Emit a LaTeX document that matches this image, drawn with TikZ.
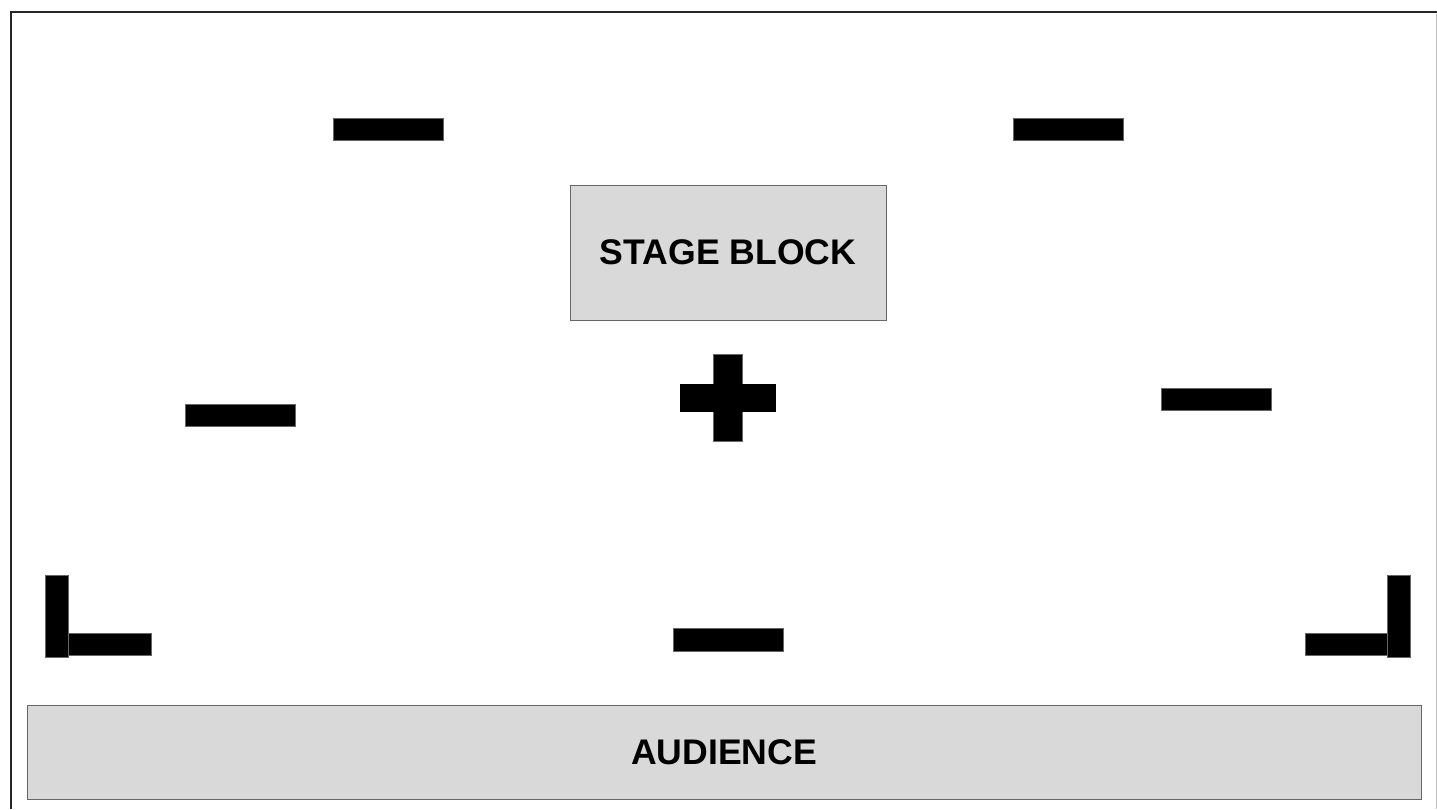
\documentclass[tikz,border=0pt]{standalone}
\usepackage{fontspec}
\setmainfont{Liberation Sans}
\begin{document}
\begin{tikzpicture}[x=1pt,y=-1pt,
  bar/.style={fill=black,draw=black!60,line width=0.6pt,inner sep=0pt,minimum width=110pt,minimum height=22pt},
  blk/.style={fill=black,draw=black!60,line width=0.6pt,inner sep=0pt},
  area/.style={fill=black!15,draw=black!60,line width=1pt,inner sep=0pt,font=\fontsize{35.6}{42}\selectfont\bfseries}]
\useasboundingbox (0,0) rectangle (1437,809);
\fill[white] (0,0) rectangle (1437,809);
% frame
\draw[line width=2.5pt,black!85] (11,809) -- (11,12) -- (1437,12);
\draw[line width=1pt,black!25] (1436,14) -- (1436,809);
% stage block and audience
\node[area,minimum width=316pt,minimum height=135pt] (stage) at (728,252.5) {STAGE BLOCK};
\node[area,minimum width=1394pt,minimum height=94pt] (aud) at (724,752) {AUDIENCE};
% bars
\node[bar] (tl) at (388,129) {};
\node[bar] (tr) at (1068,129) {};
\node[bar] (lm) at (240,415) {};
\node[bar] (rm) at (1216,399) {};
\node[bar,minimum height=23pt] (bc) at (728,640) {};
% plus
\node[blk,minimum width=95pt,minimum height=27pt] (plush) at (727.7,397.7) {};
\node[blk,minimum width=29pt,minimum height=87pt] (plusv) at (727.7,398) {};
\fill[black] (plush.north west) rectangle (plush.south east);
% left L
\node[blk,minimum width=83pt,minimum height=22.5pt] (llh) at (109.5,644.5) {};
\node[blk,minimum width=23pt,minimum height=81.5pt] (llv) at (56.5,616.5) {};
% right L
\node[blk,minimum width=82pt,minimum height=22.5pt] (rlh) at (1346,644.5) {};
\node[blk,minimum width=23pt,minimum height=81.5pt] (rlv) at (1399,616.5) {};
\end{tikzpicture}
\end{document}
